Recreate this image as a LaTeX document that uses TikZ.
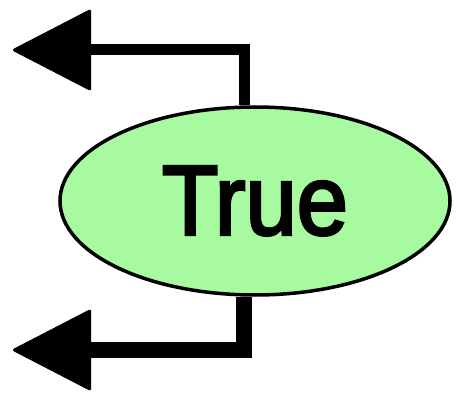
\documentclass[tikz,border=0pt]{standalone}
\usepackage{fontspec}
\setmainfont{Liberation Sans}
\newfontfamily\labelfont[FakeBold=3]{Liberation Sans}
\usetikzlibrary{arrows.meta,shapes.geometric,calc}
\definecolor{truegreen}{RGB}{168,250,160}
\tikzset{
  decision/.style={ellipse,draw,line width=3.5pt,fill=truegreen,
    minimum width=390pt,minimum height=188pt,inner sep=0pt,
    font=\labelfont\fontsize{99}{99}\selectfont},
  branch/.style={line width=16pt,
    -{Triangle[length=80pt,width=82pt,line width=3pt,round]}},
}
\begin{document}
\begin{tikzpicture}[x=1pt,y=-1pt]
\useasboundingbox (0,0) rectangle (458,393);
\node[decision] (res) at (255,201) {\scalebox{0.93}[1]{True}};
\coordinate (yes) at (13,50);
\coordinate (no) at (13,350);
% branches out of the result
\draw[branch,line width=11pt] ($(res.north)+(-11,0)$) |- (yes);
\draw[branch] ($(res.south)+(-11,0)$) |- (no);
\end{tikzpicture}
\end{document}
